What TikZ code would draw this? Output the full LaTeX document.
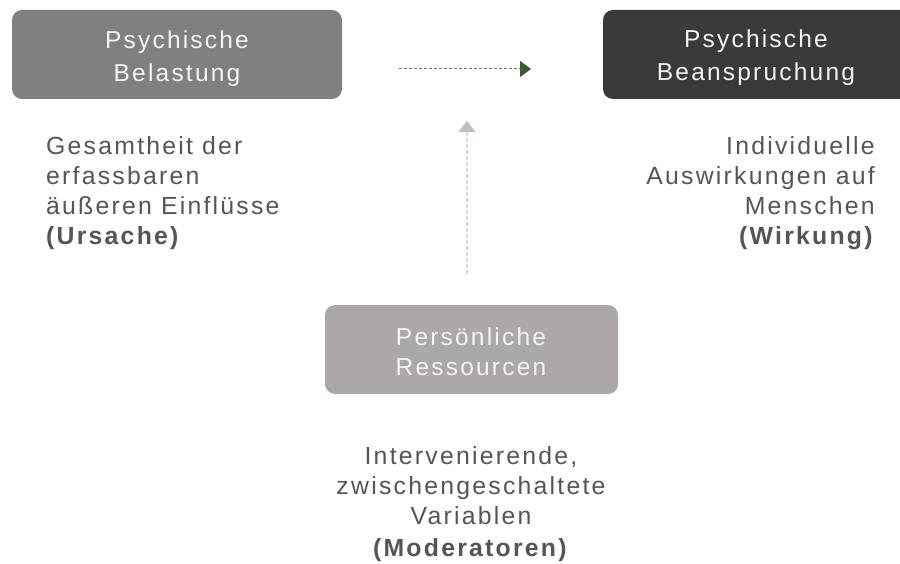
\documentclass[tikz,border=0pt]{standalone}
\usepackage{fontspec}
\setmainfont{Liberation Sans}[LetterSpace=9]
\usetikzlibrary{arrows.meta}
\definecolor{boxA}{HTML}{808080}
\definecolor{boxB}{HTML}{3C3A38}
\definecolor{boxC}{HTML}{ABA8A7}
\definecolor{txt}{HTML}{555555}
\definecolor{boxtxt}{HTML}{F4F4F4}
\definecolor{arrA}{HTML}{3B5B29}
\definecolor{lineA}{HTML}{6E8465}
\definecolor{arrB}{HTML}{B5C6AC}
\definecolor{lineB}{HTML}{D8D8D8}
\tikzset{
  box/.style={rounded corners=10pt, inner sep=0pt},
  boxlabel/.style={text=boxtxt, align=center, anchor=base, inner sep=0pt,
    font=\fontsize{24.5}{33}\selectfont},
  desc/.style={text=txt, inner sep=0pt, anchor=base,
    font=\fontsize{24.8}{30}\selectfont},
}
\begin{document}
\begin{tikzpicture}[x=1pt,y=-1pt]
\useasboundingbox (0,0) rectangle (900,564);
\fill[white] (0,0) rectangle (900,564);
% boxes
\fill[boxA, box] (12,10) rectangle (342,99);
\fill[boxB, box] (603,10) rectangle (912,99);
\fill[boxC, box] (325,305) rectangle (618,394);
\node[boxlabel] (bel) at (177,82) {Psychische\\Belastung};
\node[boxlabel] (bea) at (756,81) {Psychische\\Beanspruchung};
\node[boxlabel, font=\fontsize{24.5}{30}\selectfont] (res) at (471,375) {Persönliche\\Ressourcen};
% descriptions
\node[desc, anchor=base west, align=left] (d1) at (46,245) {Gesamtheit der\\erfassbaren\\äußeren Einflüsse\\\textbf{(Ursache)}};
\node[desc, anchor=base east, align=right] (d2) at (875,245) {Individuelle\\Auswirkungen auf\\Menschen\\\textbf{(Wirkung)}};
\node[desc, align=center] (d3) at (471,556) {Intervenierende,\\zwischengeschaltete\\Variablen\\[2pt]\textbf{(Moderatoren)}};
% connectors
\coordinate (h1) at (399,69);
\coordinate (h2) at (531,69);
\coordinate (v1) at (467,274);
\coordinate (v2) at (467,121);
\draw[lineA, line width=1pt, dash pattern=on 3pt off 2pt,
  -{Triangle[length=11pt,width=16pt,color=arrA]}] (h1) -- (h2);
\draw[lineB, line width=1.5pt, dash pattern=on 4pt off 2pt,
  -{Triangle[length=11pt,width=17pt,color=arrB]}] (v1) -- (v2);
\end{tikzpicture}
\end{document}
